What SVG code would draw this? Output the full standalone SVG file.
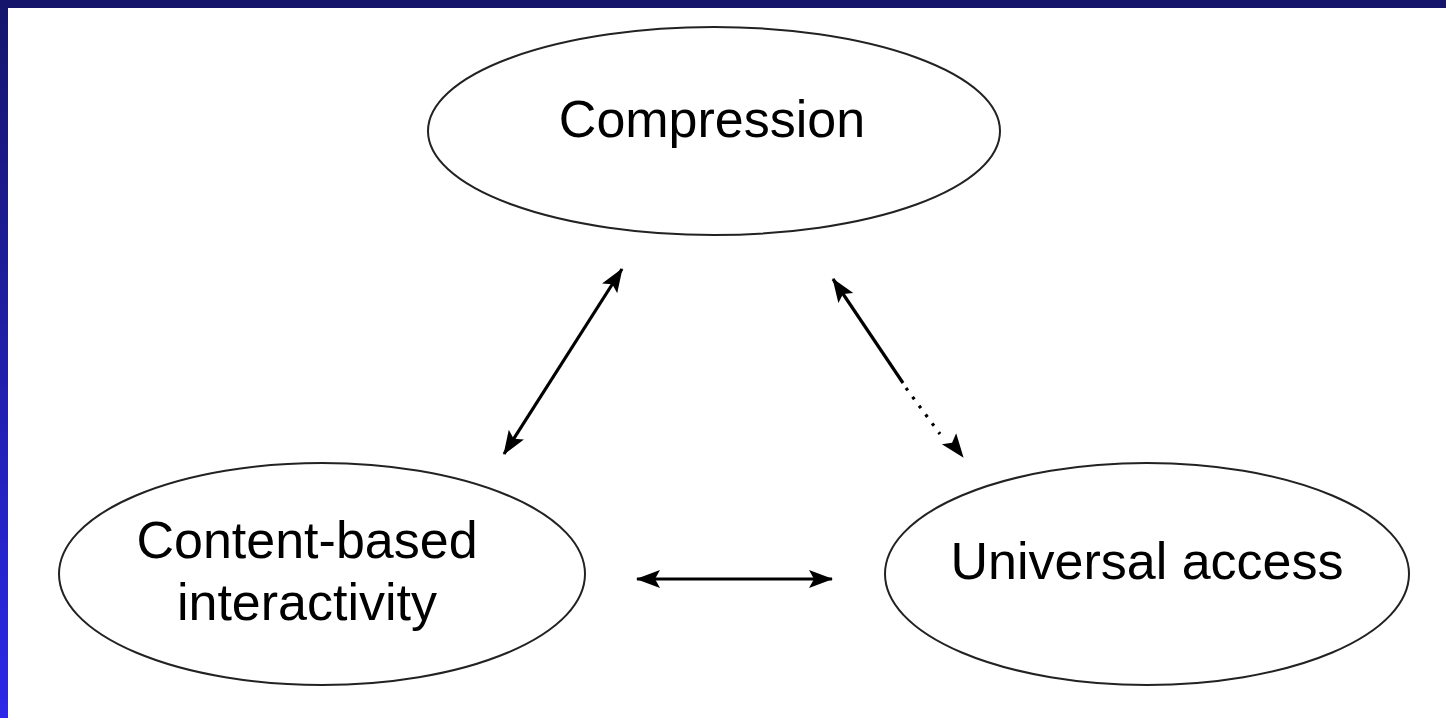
<svg xmlns="http://www.w3.org/2000/svg" width="1446" height="718" viewBox="0 0 1446 718">
  <defs>
    <linearGradient id="sideBand" x1="0" y1="0" x2="0" y2="1">
      <stop offset="0" stop-color="#15166b"/>
      <stop offset="1" stop-color="#2b28e8"/>
    </linearGradient>
    <marker id="head" markerUnits="userSpaceOnUse" markerWidth="24" markerHeight="20" viewBox="0 0 24 20" refX="23" refY="10" orient="auto-start-reverse">
      <path d="M0,1 L24,10 L0,19 L5,10 z" fill="#000"/>
    </marker>
    <style>
      .node ellipse { fill: #fff; stroke: #222; stroke-width: 2; }
      .node text { font-family: "Liberation Sans", Arial, sans-serif; font-size: 52px; fill: #000; text-anchor: middle; }
      .link { fill: none; stroke: #000; stroke-width: 3.2; }
      .dots { fill: none; stroke: #000; stroke-width: 3.2; stroke-dasharray: 3 8; }
      .ghost { fill: none; stroke: none; }
    </style>
  </defs>

  <!-- page frame -->
  <rect x="0" y="0" width="1446" height="718" fill="#fff"/>
  <rect x="0" y="0" width="8" height="718" fill="url(#sideBand)"/>
  <rect x="0" y="0" width="1446" height="8" fill="#15166b"/>

  <!-- connectors -->
  <g id="connectors">
    <line class="link" x1="504" y1="454" x2="622" y2="269" marker-start="url(#head)" marker-end="url(#head)"/>
    <line class="link" x1="833" y1="279" x2="903" y2="383" marker-start="url(#head)"/>
    <line class="dots" x1="906" y1="388" x2="940" y2="434"/>
    <line class="ghost" x1="950" y1="440" x2="963" y2="457" marker-end="url(#head)"/>
    <line class="link" x1="637" y1="579" x2="832" y2="579" marker-start="url(#head)" marker-end="url(#head)"/>
  </g>

  <!-- nodes -->
  <g id="compression" class="node">
    <ellipse cx="714" cy="131" rx="286" ry="104"/>
    <text x="712" y="137">Compression</text>
  </g>
  <g id="content-based" class="node">
    <ellipse cx="322" cy="574" rx="263" ry="111"/>
    <text x="307" y="558">Content-based</text>
    <text x="307" y="620">interactivity</text>
  </g>
  <g id="universal-access" class="node">
    <ellipse cx="1147" cy="574" rx="262" ry="111"/>
    <text x="1147" y="579">Universal access</text>
  </g>
</svg>
